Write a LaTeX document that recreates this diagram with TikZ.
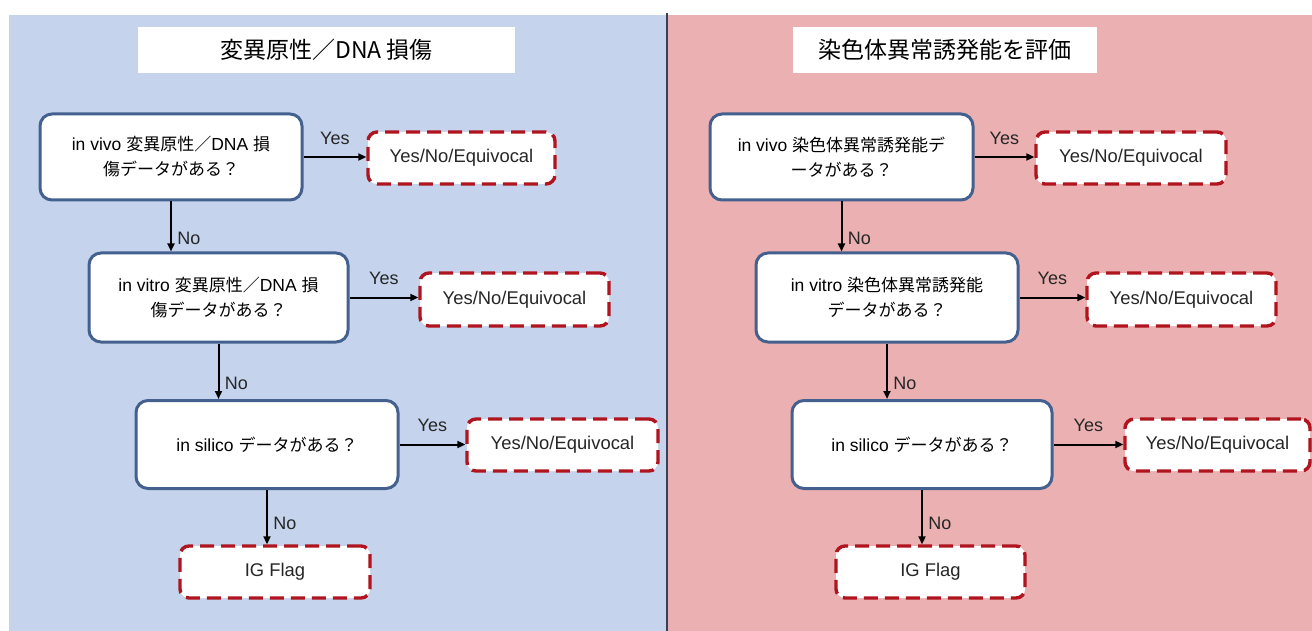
\documentclass[tikz,border=0pt]{standalone}
\usepackage{fontspec}
\setmainfont{Liberation Sans}
\newfontfamily\cjk{Noto Sans CJK JP}
\usetikzlibrary{arrows.meta}
\definecolor{bluebg}{HTML}{C5D4EC}
\definecolor{pinkbg}{HTML}{EBB0B1}
\definecolor{qborder}{HTML}{44608F}
\definecolor{rborder}{HTML}{B0141E}
\definecolor{divider}{HTML}{3A3F55}
\definecolor{labeltext}{HTML}{262626}
\newcommand{\J}[1]{{\cjk\fontsize{17}{25}\selectfont #1}}
\begin{document}
\begin{tikzpicture}[x=1pt,y=-1pt,
 qbox/.style={draw=qborder, line width=3pt, fill=white, rounded corners=12pt, align=center,
   font=\fontsize{17.5}{25}\selectfont, inner sep=0pt},
 rbox/.style={draw=rborder, line width=3.4pt, dash pattern=on 14pt off 7pt, fill=white,
   rounded corners=9pt, font=\fontsize{18.4}{22}\selectfont, text=labeltext, inner sep=0pt},
 titlebox/.style={fill=white, inner sep=0pt, font=\cjk\fontsize{23}{26}\selectfont},
 lbl/.style={font=\fontsize{18}{20}\selectfont, text=labeltext},
 arr/.style={-{Triangle[length=8pt,width=7pt]}, line width=2pt, black}]
\useasboundingbox (0,0) rectangle (1312,631);
\fill[bluebg] (9,15) rectangle (666,631);
\fill[pinkbg] (666,15) rectangle (1312,631);
\draw[divider, line width=2pt] (666.5,13) -- (666.5,631);

% titles
\node[titlebox, minimum width=377pt, minimum height=46pt] (tL) at (326.5,50) {変異原性／DNA 損傷};
\node[titlebox, minimum width=304pt, minimum height=46pt] (tR) at (945,50) {染色体異常誘発能を評価};

% left column
\node[qbox, minimum width=262pt, minimum height=86pt] (q1L) at (171,157)
  {in vivo \J{変異原性／}DNA \J{損}\\\J{傷データがある？}};
\node[rbox, minimum width=187pt, minimum height=52pt] (r1L) at (461.5,158) {Yes/No/Equivocal};
\node[qbox, minimum width=259pt, minimum height=89pt] (q2L) at (218.5,297.5)
  {in vitro \J{変異原性／}DNA \J{損}\\\J{傷データがある？}};
\node[rbox, minimum width=189pt, minimum height=53pt] (r2L) at (514.5,299.5) {Yes/No/Equivocal};
\node[qbox, minimum width=262pt, minimum height=88pt] (q3L) at (267,444.5)
  {in silico \J{データがある？}};
\node[rbox, minimum width=191pt, minimum height=52pt] (r3L) at (562.5,445) {Yes/No/Equivocal};
\node[rbox, minimum width=190pt, minimum height=52pt] (igL) at (275,572) {IG Flag};

\draw[arr] (q1L.east) -- node[lbl, above=8pt] (yes1L) {Yes} (q1L.east -| r1L.west);
\draw[arr] (q2L.east) -- node[lbl, above=8pt] (yes2L) {Yes} (q2L.east -| r2L.west);
\draw[arr] (q3L.east) -- node[lbl, above=8pt] (yes3L) {Yes} (q3L.east -| r3L.west);
\draw[arr] (q1L.south) -- node[lbl, right=2pt, pos=0.74] (no1L) {No} (q1L.south |- q2L.north);
\draw[arr] (q2L.south) -- node[lbl, right=2pt, pos=0.72] (no2L) {No} (q2L.south |- q3L.north);
\draw[arr] (q3L.south) -- node[lbl, right=2pt, pos=0.62] (no3L) {No} (q3L.south |- igL.north);

% right column
\node[qbox, minimum width=263pt, minimum height=86pt] (q1R) at (841.5,157)
  {in vivo \J{染色体異常誘発能デ}\\\J{ータがある？}};
\node[rbox, minimum width=190pt, minimum height=52pt] (r1R) at (1131,158) {Yes/No/Equivocal};
\node[qbox, minimum width=262pt, minimum height=89pt] (q2R) at (887,297.5)
  {in vitro \J{染色体異常誘発能}\\\J{データがある？}};
\node[rbox, minimum width=189pt, minimum height=53pt] (r2R) at (1181.5,299.5) {Yes/No/Equivocal};
\node[qbox, minimum width=260pt, minimum height=88pt] (q3R) at (922,444.5)
  {in silico \J{データがある？}};
\node[rbox, minimum width=185pt, minimum height=52pt] (r3R) at (1217.5,445) {Yes/No/Equivocal};
\node[rbox, minimum width=189pt, minimum height=52pt] (igR) at (930.5,572) {IG Flag};

\draw[arr] (q1R.east) -- node[lbl, above=8pt] (yes1R) {Yes} (q1R.east -| r1R.west);
\draw[arr] (q2R.east) -- node[lbl, above=8pt] (yes2R) {Yes} (q2R.east -| r2R.west);
\draw[arr] (q3R.east) -- node[lbl, above=8pt] (yes3R) {Yes} (q3R.east -| r3R.west);
\draw[arr] (q1R.south) -- node[lbl, right=2pt, pos=0.74] (no1R) {No} (q1R.south |- q2R.north);
\draw[arr] (q2R.south) -- node[lbl, right=2pt, pos=0.72] (no2R) {No} (q2R.south |- q3R.north);
\draw[arr] (q3R.south) -- node[lbl, right=2pt, pos=0.62] (no3R) {No} (q3R.south |- igR.north);
\end{tikzpicture}
\end{document}
